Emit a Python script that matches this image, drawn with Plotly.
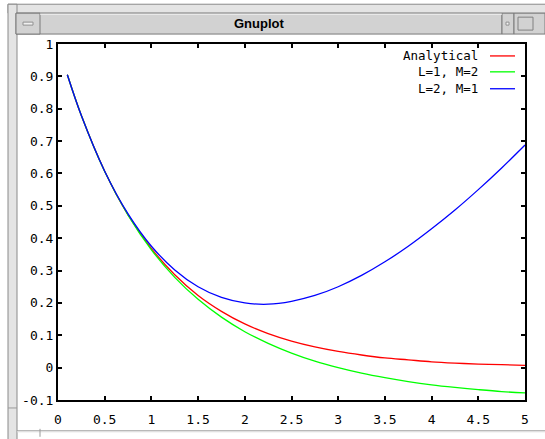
import plotly.graph_objects as go

# ---- data ----
x_vals = [0.1, 0.25, 0.5, 0.75, 1.0, 1.25, 1.5, 1.75, 2.0, 2.25, 2.5,
          2.75, 3.0, 3.25, 3.5, 3.75, 4.0, 4.25, 4.5, 4.75, 5.0]
analytical = [0.905, 0.779, 0.607, 0.472, 0.368, 0.287, 0.223, 0.174, 0.135, 0.105, 0.082,
              0.064, 0.050, 0.039, 0.030, 0.024, 0.018, 0.014, 0.011, 0.009, 0.007]
l1_m2 = [0.905, 0.779, 0.606, 0.471, 0.364, 0.279, 0.211, 0.156, 0.111, 0.075, 0.045,
         0.020, 0.000, -0.017, -0.031, -0.043, -0.053, -0.061, -0.068, -0.074, -0.078]
l2_m1 = [0.905, 0.779, 0.607, 0.475, 0.375, 0.302, 0.250, 0.217, 0.200, 0.196, 0.205,
         0.223, 0.250, 0.285, 0.327, 0.375, 0.429, 0.487, 0.550, 0.617, 0.688]
series_names = ["Analytical", "L=1, M=2", "L=2, M=1"]
series_colors = ["#ff0000", "#00ff00", "#0000ff"]

x_ticks = [0, 0.5, 1, 1.5, 2, 2.5, 3, 3.5, 4, 4.5, 5]
x_tick_labels = ["0", "0.5", "1", "1.5", "2", "2.5", "3", "3.5", "4", "4.5", "5"]
y_ticks = [-0.1, 0, 0.1, 0.2, 0.3, 0.4, 0.5, 0.6, 0.7, 0.8, 0.9, 1]
y_tick_labels = ["-0.1", "0", "0.1", "0.2", "0.3", "0.4", "0.5", "0.6", "0.7", "0.8", "0.9", "1"]

W, H = 545, 439
L, R, T, B = 58, 525, 44, 402
MONO = "DejaVu Sans Mono"


def px(x):
    return (x - L) / (R - L)


def py(y):
    return (B - y) / (B - T)


fig = go.Figure()
for ys, name, col in zip([analytical, l1_m2, l2_m1], series_names, series_colors):
    fig.add_trace(go.Scatter(x=x_vals, y=ys, name=name, mode="lines",
                             line=dict(color=col, width=1.3, shape="spline"),
                             showlegend=False))

shapes = []
annotations = []

# gnuplot-style key: text right-aligned, sample line to its right
key_rows = [56, 72, 89]
for name, col, ry in zip(series_names, series_colors, key_rows):
    annotations.append(dict(x=px(480), y=py(ry), xref="paper", yref="paper",
                            text=name, showarrow=False, xanchor="right", yanchor="middle",
                            font=dict(family=MONO, size=12.5, color="black")))
    shapes.append(dict(type="line", xref="paper", yref="paper",
                       x0=px(490), x1=px(515), y0=py(ry), y1=py(ry),
                       line=dict(color=col, width=1.3)))


def rect(x0, y0, x1, y1, fill, line="#8a8a8a", w=1):
    shapes.append(dict(type="rect", xref="paper", yref="paper",
                       x0=px(x0), x1=px(x1), y0=py(y0), y1=py(y1),
                       fillcolor=fill, line=dict(color=line, width=w), layer="below"))


def hline(x0, x1, y, color="#8a8a8a", w=1):
    shapes.append(dict(type="line", xref="paper", yref="paper",
                       x0=px(x0), x1=px(x1), y0=py(y), y1=py(y),
                       line=dict(color=color, width=w)))


def vline(x, y0, y1, color="#8a8a8a", w=1):
    shapes.append(dict(type="line", xref="paper", yref="paper",
                       x0=px(x), x1=px(x), y0=py(y0), y1=py(y1),
                       line=dict(color=color, width=w)))


# window chrome
rect(8, 4, 548, 13, "#e4e4e4")
rect(8, 4, 17, 445, "#e4e4e4")
rect(16, 13, 502, 34, "#d2d2d2", "#7a7a7a")
rect(16, 13, 40, 34, "#d2d2d2", "#7a7a7a")
rect(23, 22, 33, 25, "#f0f0f0", "#909090")
rect(502, 13, 514, 34, "#d2d2d2", "#7a7a7a")
rect(506, 22, 509, 25, "#f4f4f4", "#909090")
rect(514, 13, 545, 34, "#d2d2d2", "#7a7a7a")
rect(518, 17, 533, 30, "#d2d2d2", "#808080")
hline(40, 502, 14, "#f4f4f4")
hline(17, 548, 433, "#9a9a9a")
hline(17, 548, 434, "#e0e0e0")
hline(8, 17, 410, "#9a9a9a")
vline(40, 431, 439, "#9a9a9a")

annotations.append(dict(x=px(259), y=py(23), xref="paper", yref="paper",
                        text="<b>Gnuplot</b>", showarrow=False,
                        xanchor="center", yanchor="middle",
                        font=dict(family="Liberation Sans", size=13, color="black")))

axis_common = dict(showgrid=False, zeroline=False, showline=True, linewidth=2,
                   linecolor="black", mirror="allticks", ticks="inside",
                   ticklen=4, tickwidth=2, tickcolor="black",
                   tickfont=dict(family=MONO, size=13, color="black"))

fig.update_layout(
    width=W, height=H,
    margin=dict(l=L, r=W - R, t=T, b=H - B),
    paper_bgcolor="white", plot_bgcolor="white",
    xaxis=dict(range=[0, 5], tickmode="array", tickvals=x_ticks, ticktext=x_tick_labels,
               ticklabelstandoff=6, **axis_common),
    yaxis=dict(range=[-0.1, 1], tickmode="array", tickvals=y_ticks, ticktext=y_tick_labels,
               **axis_common),
    shapes=shapes,
    annotations=annotations,
    showlegend=False,
)

fig.write_html("out.html")
